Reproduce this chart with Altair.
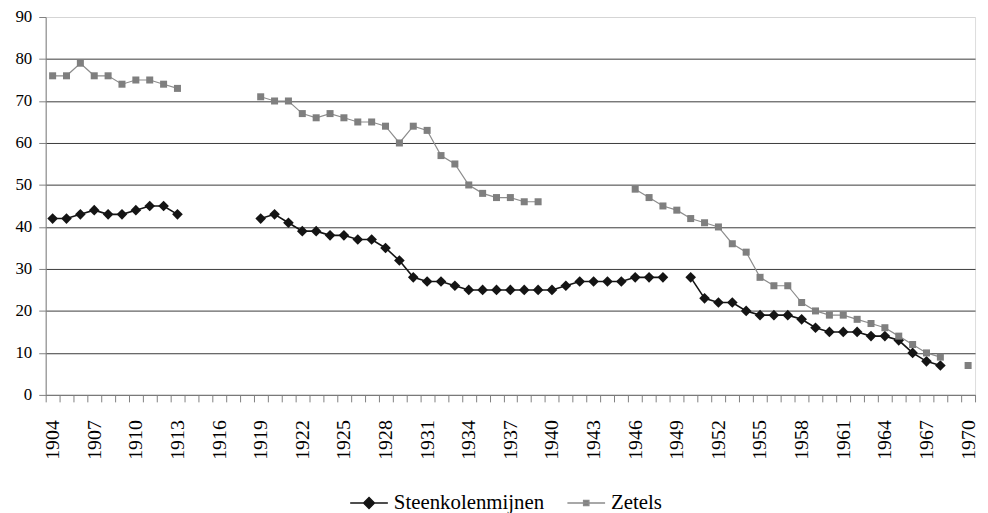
import altair as alt
import pandas as pd

years = list(range(1904, 1971))
series = ["Steenkolenmijnen", "Zetels"]

steenkolenmijnen = [42, 42, 43, 44, 43, 43, 44, 45, 45, 43,
                    None, None, None, None, None,
                    42, 43, 41, 39, 39, 38, 38, 37, 37, 35,
                    32, 28, 27, 27, 26, 25, 25, 25, 25, 25,
                    25, 25, 26, 27, 27, 27, 27, 28, 28, 28,
                    None,
                    28, 23, 22, 22, 20, 19, 19, 19, 18, 16,
                    15, 15, 15, 14, 14, 13, 10, 8, 7,
                    None, None]

zetels = [76, 76, 79, 76, 76, 74, 75, 75, 74, 73,
          None, None, None, None, None,
          71, 70, 70, 67, 66, 67, 66, 65, 65, 64,
          60, 64, 63, 57, 55, 50, 48, 47, 47, 46,
          46,
          None, None, None, None, None, None,
          49, 47, 45, 44, 42, 41, 40, 36, 34, 28,
          26, 26, 22, 20, 19, 19, 18, 17, 16, 14,
          12, 10, 9,
          None,
          7]

y_ticks = list(range(0, 91, 10))

rows = []
for name, vals in zip(series, [steenkolenmijnen, zetels]):
    seg = 0
    prev = None
    for yr, v in zip(years, vals):
        if v is None:
            prev = None
            continue
        if prev is None:
            seg += 1
        rows.append({"year": yr, "value": v, "series": name, "seg": f"{name}-{seg}"})
        prev = v
df = pd.DataFrame(rows)

FONT = "'Liberation Serif', 'DejaVu Serif', serif"
BLACK = "#141414"
GREY_PT = "#7f7f7f"
GREY_LN = "#8c8c8c"

x_enc = alt.X(
    "year:O",
    scale=alt.Scale(domain=years, paddingInner=0, paddingOuter=0),
    axis=alt.Axis(
        title=None,
        labelExpr="(datum.value - 1904) % 3 == 0 ? datum.label : ''",
        labelAngle=270,
        labelOverlap=False,
        tickBand="extent",
        grid=False,
        domainColor="#808080",
        tickColor="#808080",
        tickSize=7,
        labelPadding=18,
        labelFont=FONT,
        labelFontSize=20,
        labelColor="#000000",
    ),
)
y_enc = alt.Y(
    "value:Q",
    scale=alt.Scale(domain=[0, 90]),
    axis=alt.Axis(
        title=None,
        values=y_ticks,
        grid=True,
        gridColor={"condition": {"test": "datum.value === 90", "value": "#d4d4d4"},
                   "value": "#3a3a3a"},
        gridWidth=1,
        domainColor="#808080",
        tickColor="#808080",
        tickSize=7,
        labelPadding=7,
        labelFont=FONT,
        labelFontSize=17,
        labelColor="#000000",
    ),
)

base = alt.Chart(df)

steen_line = base.transform_filter(alt.datum.series == series[0]).mark_line(
    color=BLACK, strokeWidth=1.6
).encode(x=x_enc, y=y_enc, detail="seg:N")
steen_pts = base.transform_filter(alt.datum.series == series[0]).mark_point(
    shape="diamond", filled=True, size=115, color=BLACK, opacity=1
).encode(x=x_enc, y=y_enc)

zet_line = base.transform_filter(alt.datum.series == series[1]).mark_line(
    color=GREY_LN, strokeWidth=1.2
).encode(x=x_enc, y=y_enc, detail="seg:N")
zet_pts = base.transform_filter(alt.datum.series == series[1]).mark_point(
    shape="square", filled=True, size=50, color=GREY_PT, opacity=1
).encode(x=x_enc, y=y_enc)

diamond_path = "M-1,0L1,0M0,-0.29L0.29,0L0,0.29L-0.29,0Z"
square_path = "M-1,0L1,0M-0.14,-0.14L0.14,-0.14L0.14,0.14L-0.14,0.14Z"

leg = alt.Legend(
    title=None,
    orient="none",
    legendX=306,
    legendY=470,
    direction="horizontal",
    symbolSize=1444,
    symbolStrokeWidth=1.4,
    symbolOpacity=1,
    labelFont=FONT,
    labelFontSize=21,
    labelColor="#000000",
    labelOffset=5,
    columnPadding=20,
    padding=0,
)

legend_layer = base.transform_filter("datum.year < 0").mark_point(
    filled=True, opacity=1
).encode(
    fill=alt.Fill("series:N", scale=alt.Scale(domain=series, range=[BLACK, GREY_PT]), legend=leg),
    stroke=alt.Stroke("series:N", scale=alt.Scale(domain=series, range=[BLACK, GREY_LN]), legend=leg),
    shape=alt.Shape("series:N", scale=alt.Scale(domain=series, range=[diamond_path, square_path]), legend=leg),
)

chart = alt.layer(steen_line, steen_pts, zet_line, zet_pts, legend_layer).properties(
    width=937,
    height=381,
    autosize=alt.AutoSizeParams(type="none"),
    padding={"left": 38, "top": 7, "right": 5, "bottom": 120},
).configure_view(stroke=None).configure(font=FONT)

chart.save("out.html", embed_options={"renderer": "svg", "actions": False})
